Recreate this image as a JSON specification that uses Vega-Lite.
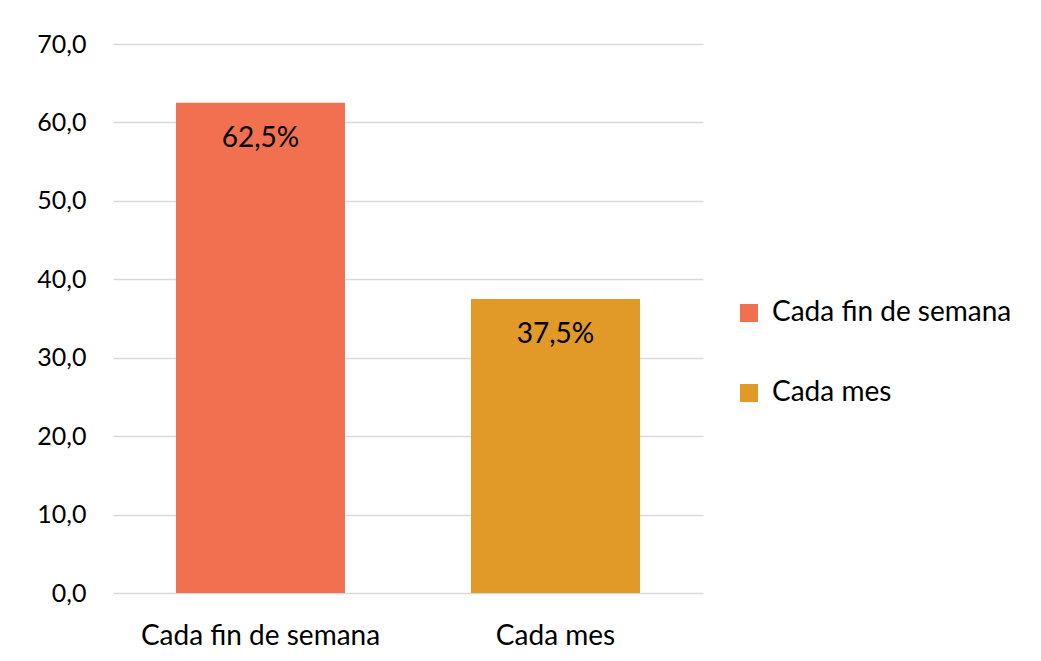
{
  "$schema": "https://vega.github.io/schema/vega-lite/v6.json",
  "width": 590,
  "height": 549,
  "autosize": {"type": "none"},
  "padding": {"left": 113, "top": 44, "right": 338, "bottom": 68},
  "background": "white",
  "config": {
    "view": {"stroke": null},
    "font": "Lato"
  },
  "data": {
    "values": [
      {"categoria": "Cada fin de semana", "valor": 62.5, "etiqueta": "62,5%"},
      {"categoria": "Cada mes", "valor": 37.5, "etiqueta": "37,5%"}
    ]
  },
  "encoding": {
    "x": {
      "field": "categoria",
      "type": "nominal",
      "sort": null,
      "scale": {"paddingInner": 0.427, "paddingOuter": 0.2135},
      "axis": {
        "title": null,
        "labelAngle": 0,
        "labelFontSize": 28,
        "labelLimit": 0,
        "labelColor": "#000000",
        "labelPadding": 29,
        "domain": false,
        "ticks": false,
        "grid": false
      }
    }
  },
  "layer": [
    {
      "mark": {"type": "bar"},
      "encoding": {
        "y": {
          "field": "valor",
          "type": "quantitative",
          "scale": {"domain": [0, 70]},
          "axis": {
            "title": null,
            "values": [0, 10, 20, 30, 40, 50, 60, 70],
            "labelExpr": "replace(format(datum.value, '.1f'), '.', ',')",
            "labelFontSize": 25,
            "labelColor": "#000000",
            "labelPadding": 27,
            "domain": false,
            "ticks": false,
            "grid": true,
            "gridColor": "#D9D9D9",
            "gridWidth": 1.5
          }
        },
        "color": {
          "field": "categoria",
          "type": "nominal",
          "sort": null,
          "scale": {"range": ["#F07050", "#E19A28"]},
          "legend": {
            "title": null,
            "orient": "none",
            "legendX": 622,
            "legendY": 255,
            "symbolType": "square",
            "symbolSize": 324,
            "symbolStrokeWidth": 0,
            "labelFontSize": 28,
            "labelLimit": 0,
            "labelColor": "#000000",
            "rowPadding": 52,
            "labelOffset": 9
          }
        }
      }
    },
    {
      "mark": {"type": "text", "baseline": "top", "dy": 22, "fontSize": 28, "color": "#000000"},
      "encoding": {
        "y": {"field": "valor", "type": "quantitative"},
        "text": {"field": "etiqueta"}
      }
    }
  ]
}
